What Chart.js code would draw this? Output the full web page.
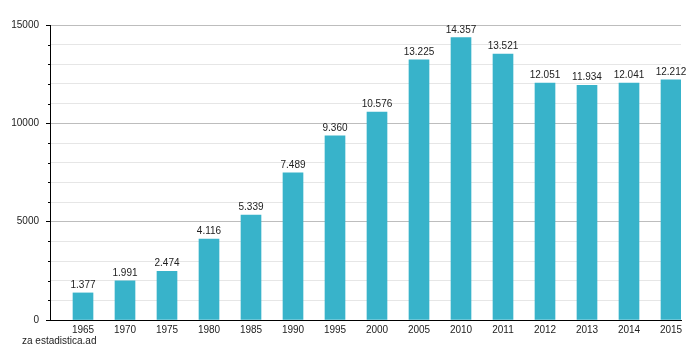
<!DOCTYPE html>
<html><head><meta charset="utf-8">
<script src="https://cdn.jsdelivr.net/npm/chart.js@4/dist/chart.umd.min.js"></script>
<style>html,body{margin:0;padding:0;background:#fff}canvas{display:block}</style>
</head><body>
<canvas id="c" width="700" height="350"></canvas>
<script>
const years = ['1965','1970','1975','1980','1985','1990','1995','2000','2005','2010','2011','2012','2013','2014','2015'];
const population = [1377,1991,2474,4116,5339,7489,9360,10576,13225,14357,13521,12051,11934,12041,12212];
const yTicksMajor = [0,5000,10000,15000];
const sourceText = 'za estadistica.ad';

const FONT = '"Liberation Sans", Arial, sans-serif';
const fmt = v => String(v).replace(/\B(?=(\d{3})+(?!\d))/g, '.');
const isMajor = v => yTicksMajor.includes(v);

const valueLabels = {
  id: 'valueLabels',
  afterDatasetsDraw(chart) {
    const ctx = chart.ctx;
    const meta = chart.getDatasetMeta(0);
    ctx.save();
    ctx.font = '10px ' + FONT;
    ctx.fillStyle = '#222';
    ctx.textAlign = 'center';
    ctx.textBaseline = 'alphabetic';
    meta.data.forEach((bar, i) => {
      ctx.fillText(fmt(population[i]), bar.x, bar.y - 5);
    });
    ctx.restore();
  },
  afterDraw(chart) {
    const ctx = chart.ctx;
    const ys = chart.scales.y;
    ctx.save();
    // short minor ticks
    ctx.strokeStyle = '#000';
    ctx.lineWidth = 1;
    ys.ticks.forEach(t => {
      if (isMajor(t.value)) return;
      const py = Math.round(ys.getPixelForValue(t.value)) + 0.5;
      ctx.beginPath();
      ctx.moveTo(ys.right - 2, py);
      ctx.lineTo(ys.right, py);
      ctx.stroke();
    });
    ctx.font = '10px ' + FONT;
    ctx.fillStyle = '#222';
    ctx.textAlign = 'left';
    ctx.textBaseline = 'alphabetic';
    ctx.fillText(sourceText, 22, 344);
    ctx.restore();
  }
};

new Chart(document.getElementById('c'), {
  type: 'bar',
  data: {
    datasets: [{
      data: population.map((v, i) => ({x: i, y: v})),
      backgroundColor: '#38b3ca',
      barThickness: 20,
      borderWidth: 0
    }]
  },
  options: {
    responsive: false,
    animation: false,
    layout: {padding: {top: 25, right: 19, left: 0, bottom: 0}},
    plugins: {legend: {display: false}, tooltip: {enabled: false}},
    scales: {
      x: {
        type: 'linear',
        offset: false,
        min: -33/42,
        max: 14 + 10/42,
        afterBuildTicks: s => { s.ticks = years.map((_, i) => ({value: i})); },
        afterFit: s => { s.height = 30; },
        grid: {display: false, drawTicks: false, tickLength: 0, offset: false},
        border: {display: true, color: '#000', width: 1},
        ticks: {
          autoSkip: false, maxRotation: 0, padding: 4,
          color: '#222', font: {family: FONT, size: 10},
          callback: v => years[v] !== undefined ? years[v] : ''
        }
      },
      y: {
        min: 0, max: 15000,
        afterBuildTicks: s => {
          const t = [];
          for (let v = 0; v <= 15000; v += 1000) t.push({value: v});
          s.ticks = t;
        },
        afterFit: s => { s.width = 50; },
        border: {display: true, color: '#000', width: 1},
        grid: {
          color: c => (c.tick && isMajor(c.tick.value)) ? '#bdbdbd' : '#e6e6e6',
          tickColor: c => (c.tick && isMajor(c.tick.value)) ? '#000' : 'rgba(0,0,0,0)',
          tickLength: 4,
          lineWidth: 1
        },
        ticks: {
          padding: 7,
          color: '#222', font: {family: FONT, size: 10},
          callback: v => isMajor(v) ? String(v) : ''
        }
      }
    }
  },
  plugins: [valueLabels]
});
</script>
</body></html>
